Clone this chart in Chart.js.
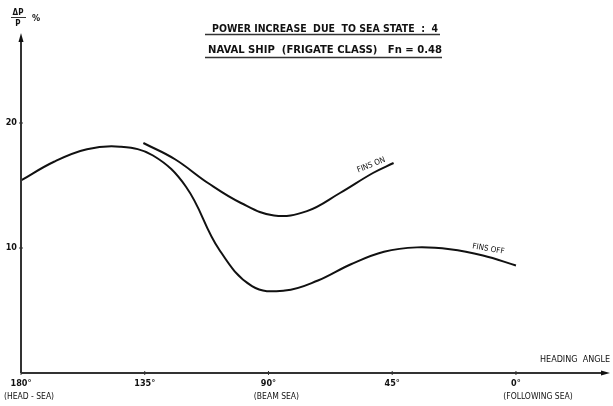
<!DOCTYPE html>
<html>
<head>
<meta charset="utf-8">
<script src="https://cdn.jsdelivr.net/npm/chart.js@4/dist/chart.umd.min.js"></script>
<style>
  html, body { margin: 0; padding: 0; background: #fff; }
  #wrap { width: 613px; height: 406px; }
</style>
</head>
<body>
<div id="wrap"><canvas id="c" width="613" height="406"></canvas></div>
<script>
// Heading angle (deg) and power increase (%) for the frigate in sea state 4
const anglesFinsOff = [180, 168, 156, 144, 132, 120, 108, 96, 84, 72, 60, 48, 36, 24, 12, 0];
const finsOff       = [15.4, 16.9, 17.9, 18.1, 17.4, 14.9, 9.9, 6.95, 6.6, 7.4, 8.7, 9.7, 10.05, 9.9, 9.4, 8.6];
const anglesFinsOn  = [135.5, 124, 112, 100, 88, 76, 64, 52, 44.5];
const finsOn        = [18.4, 17.1, 15.2, 13.6, 12.6, 12.95, 14.4, 16.0, 16.8];

const xTicks = [180, 135, 90, 45, 0];
const xTickNames = ['(HEAD - SEA)', '', '(BEAM SEA)', '', '(FOLLOWING SEA)'];
const yTicks = [10, 20];

const titleLines = ['POWER INCREASE  DUE  TO SEA STATE  :  4', 'NAVAL SHIP  (FRIGATE CLASS)   Fn = 0.48'];
const xTitle = 'HEADING  ANGLE';

const INK = '#111';
const LETTER = '"DejaVu Sans Condensed", "DejaVu Sans", sans-serif';

function pts(xs, ys) { return xs.map((x, i) => ({ x: x, y: ys[i] })); }

// Draws a string squeezed/stretched to a given width
function fitText(ctx, txt, x, y, w) {
  const m = ctx.measureText(txt).width;
  ctx.save();
  ctx.translate(x, y);
  ctx.scale(w / m, 1);
  ctx.fillText(txt, 0, 0);
  ctx.restore();
}

const annotate = {
  id: 'annotate',
  afterDraw(chart) {
    const ctx = chart.ctx;
    const xs = chart.scales.x, ys = chart.scales.y;
    const x0 = xs.getPixelForValue(180);
    const yBase = ys.getPixelForValue(0);
    const xEnd = xs.getPixelForValue(xs.min);
    const yTop = ys.getPixelForValue(ys.max);
    ctx.save();
    ctx.strokeStyle = '#333';
    ctx.fillStyle = INK;
    ctx.lineWidth = 2;
    // axes
    ctx.beginPath();
    ctx.moveTo(x0, yBase); ctx.lineTo(x0, yTop + 4);
    ctx.moveTo(x0, yBase); ctx.lineTo(xEnd - 4, yBase);
    ctx.stroke();
    // arrow heads
    ctx.beginPath();
    ctx.moveTo(x0, yTop); ctx.lineTo(x0 - 2.5, yTop + 9); ctx.lineTo(x0 + 2.5, yTop + 9); ctx.closePath();
    ctx.fill();
    ctx.beginPath();
    ctx.moveTo(xEnd, yBase); ctx.lineTo(xEnd - 9, yBase - 2.5); ctx.lineTo(xEnd - 9, yBase + 2.5); ctx.closePath();
    ctx.fill();

    ctx.lineWidth = 1;
    ctx.font = 'bold 9px ' + LETTER;
    // y ticks
    yTicks.forEach(v => {
      const py = ys.getPixelForValue(v);
      ctx.beginPath(); ctx.moveTo(x0 - 2, py); ctx.lineTo(x0 + 2, py); ctx.stroke();
      ctx.textAlign = 'right'; ctx.textBaseline = 'middle';
      ctx.fillText(String(v), x0 - 4, py);
    });
    // x ticks and names
    xTicks.forEach((v, i) => {
      const px = xs.getPixelForValue(v);
      ctx.beginPath(); ctx.moveTo(px, yBase - 2); ctx.lineTo(px, yBase + 2); ctx.stroke();
      ctx.textAlign = 'center'; ctx.textBaseline = 'alphabetic';
      ctx.font = 'bold 9px ' + LETTER;
      ctx.fillText(v + '°', px, yBase + 13);
      if (xTickNames[i]) {
        ctx.font = '8.5px ' + LETTER;
        const dx = i === 0 ? 8 : (i === 4 ? 22 : 8);
        ctx.fillText(xTickNames[i], px + dx, yBase + 26);
      }
    });
    // x axis title
    ctx.font = '8px ' + LETTER;
    ctx.textAlign = 'left';
    fitText(ctx, xTitle, 540, 362, 70);

    // y axis title: ΔP / P %
    ctx.font = 'bold 8px ' + LETTER;
    ctx.textAlign = 'center';
    ctx.fillText('ΔP', 18, 15);
    ctx.beginPath(); ctx.moveTo(11, 17.5); ctx.lineTo(26, 17.5); ctx.stroke();
    ctx.fillText('P', 18, 26);
    ctx.font = 'bold 9px ' + LETTER;
    ctx.fillText('%', 36, 21);

    // title block
    ctx.font = 'bold 10px ' + LETTER;
    ctx.textAlign = 'left';
    fitText(ctx, titleLines[0], 212, 32, 226);
    fitText(ctx, titleLines[1], 208, 53, 234);
    ctx.lineWidth = 1.5;
    ctx.beginPath();
    ctx.moveTo(205, 34.5); ctx.lineTo(440, 34.5);
    ctx.moveTo(205, 57.5); ctx.lineTo(442, 57.5);
    ctx.stroke();

    // curve labels
    ctx.font = '8px ' + LETTER;
    ctx.save();
    ctx.translate(372, 167); ctx.rotate(-22 * Math.PI / 180);
    ctx.textAlign = 'center'; ctx.fillText('FINS ON', 0, 0);
    ctx.restore();
    ctx.save();
    ctx.translate(488, 251); ctx.rotate(10 * Math.PI / 180);
    ctx.textAlign = 'center'; ctx.fillText('FINS OFF', 0, 0);
    ctx.restore();
    ctx.restore();
  }
};

new Chart(document.getElementById('c'), {
  type: 'line',
  data: {
    datasets: [
      { label: 'FINS OFF', data: pts(anglesFinsOff, finsOff), borderColor: INK, borderWidth: 2,
        pointRadius: 0, fill: false, tension: 0.4 },
      { label: 'FINS ON', data: pts(anglesFinsOn, finsOn), borderColor: INK, borderWidth: 2,
        pointRadius: 0, fill: false, tension: 0.4 }
    ]
  },
  options: {
    responsive: false,
    animation: false,
    layout: { padding: { left: 21, right: 3, top: 33, bottom: 33 } },
    plugins: { legend: { display: false }, tooltip: { enabled: false } },
    scales: {
      x: { type: 'linear', reverse: true, min: -34.2, max: 180, display: false },
      y: { type: 'linear', min: 0, max: 27.2, display: false }
    }
  },
  plugins: [annotate]
});
</script>
</body>
</html>
